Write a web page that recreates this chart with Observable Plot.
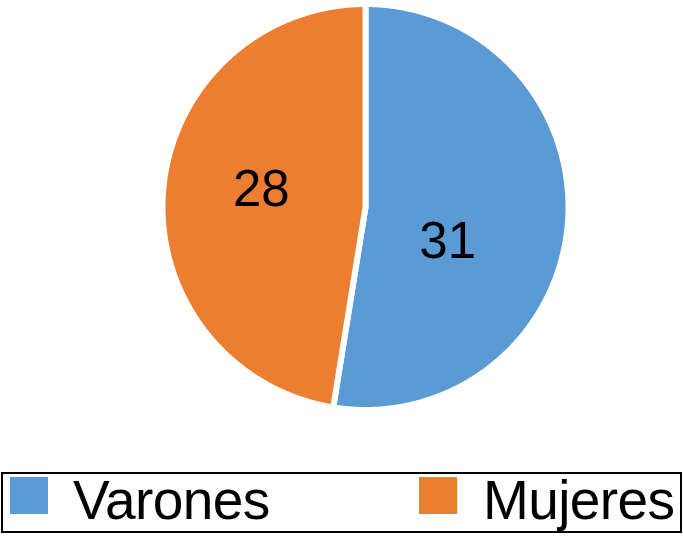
<!DOCTYPE html>
<html><head><meta charset="utf-8">
<script src="https://cdn.jsdelivr.net/npm/d3@7"></script>
<script src="https://cdn.jsdelivr.net/npm/@observablehq/plot@0.6"></script>
<style>
body{margin:0;background:#fff;font-family:"Liberation Sans",Arial,sans-serif;}
#wrap{position:relative;width:683px;height:536px;overflow:hidden;}
#chart{position:absolute;left:0;top:0;}
#legend{position:absolute;left:1px;top:472px;width:677px;height:57px;border:2px solid #000;box-sizing:content-box;}
.sw{position:absolute;top:3px;width:38px;height:37px;}
.lb{position:absolute;top:-6px;font-size:55px;line-height:64px;color:#000;white-space:nowrap;letter-spacing:-0.6px;}
</style></head><body>
<div id="wrap"><div id="chart"></div><div id="legend"></div></div>
<script>
const categories = ["Varones", "Mujeres"];
const values = [31, 28];
const colors = ["#5B9BD5", "#ED7D31"];

const slices = d3.pie().sort(null).value(d => d.value)(
  categories.map((c, i) => ({category: c, value: values[i]}))
);

// polygon outline for each slice, built from the pie angles
const outline = [];
for (const s of slices) {
  const cat = s.data.category;
  outline.push({cat, x: 0, y: 0});
  const n = Math.ceil((s.endAngle - s.startAngle) / 0.004);
  for (let k = 0; k <= n; k++) {
    const t = s.startAngle + (s.endAngle - s.startAngle) * k / n;
    outline.push({cat, x: Math.sin(t), y: Math.cos(t)});
  }
  outline.push({cat, x: 0, y: 0});
}

const labels = slices.map(s => {
  const m = (s.startAngle + s.endAngle) / 2;
  return {cat: s.data.category, value: s.data.value, x: 0.5 * Math.sin(m), y: 0.5 * Math.cos(m)};
});

const chart = Plot.plot({
  width: 683,
  height: 440,
  x: {domain: [-1, 1], range: [162, 568], axis: null},
  y: {domain: [-1, 1], range: [409.5, 3.5], axis: null},
  color: {domain: categories, range: colors},
  style: {background: "white", fontFamily: "Liberation Sans, Arial, sans-serif"},
  marks: [
    Plot.line(outline, {x: "x", y: "y", z: "cat", fill: "cat", stroke: "white", strokeWidth: 6, strokeLinejoin: "round"}),
    Plot.text(labels.filter(d => d.cat === "Varones"), {x: "x", y: "y", text: d => String(d.value), fontSize: 51, fill: "black", dx: -19, dy: 27}),
    Plot.text(labels.filter(d => d.cat === "Mujeres"), {x: "x", y: "y", text: d => String(d.value), fontSize: 51, fill: "black", dx: -3, dy: -9})
  ]
});
document.getElementById("chart").appendChild(chart);

const legend = document.getElementById("legend");
const pos = [{sw: 7, lb: 70}, {sw: 416, lb: 480}];
categories.forEach((c, i) => {
  const sw = document.createElement("div");
  sw.className = "sw";
  sw.style.left = pos[i].sw + "px";
  sw.style.background = colors[i];
  legend.appendChild(sw);
  const lb = document.createElement("div");
  lb.className = "lb";
  lb.style.left = pos[i].lb + "px";
  lb.textContent = c;
  legend.appendChild(lb);
});
</script>
</body></html>
